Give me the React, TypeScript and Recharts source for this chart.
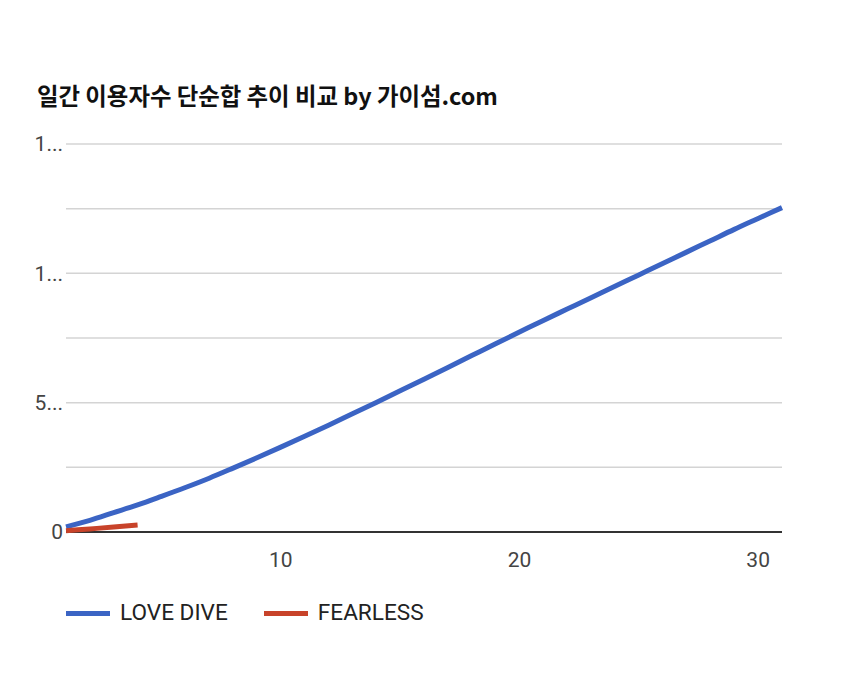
import React from 'react';
import { LineChart, Line, XAxis, YAxis, CartesianGrid, ReferenceLine } from 'recharts';

const days = [1, 2, 3, 4, 5, 6, 7, 8, 9, 10, 11, 12, 13, 14, 15, 16, 17, 18, 19, 20, 21, 22, 23, 24, 25, 26, 27, 28, 29, 30, 31];
const loveDive = [200000, 450000, 750000, 1050000, 1380000, 1720000, 2080000, 2470000, 2870000, 3280000, 3700000, 4130000, 4570000, 5010000, 5460000, 5910000, 6360000, 6820000, 7280000, 7730000, 8180000, 8620000, 9060000, 9500000, 9940000, 10380000, 10820000, 11260000, 11700000, 12120000, 12540000];
const fearless = [50000, 120000, 190000, 270000];
const yTicks = [0, 2500000, 5000000, 7500000, 10000000, 12500000, 15000000];
const yLabels: Record<number, string> = { 0: '0', 5000000: '5...', 10000000: '1...', 15000000: '1...' };
const xTicks = [10, 20, 30];
const title = '일간 이용자수 단순합 추이 비교 by 가이섬.com';
const seriesNames = ['LOVE DIVE', 'FEARLESS'];
const colors = ['#3b64c4', '#c8432a'];

const data = days.map((d, i) => ({
  day: d,
  lovedive: loveDive[i],
  fearless: i < fearless.length ? fearless[i] : null,
}));

const font = 'Roboto, "Noto Sans", sans-serif';

export default function App() {
  return (
    <div style={{ position: 'absolute', left: 0, top: 0, width: 850, height: 676, background: '#fff' }}>
      <div
        style={{
          position: 'absolute',
          left: 37,
          top: 80,
          fontFamily: '"Noto Sans CJK KR", "Noto Sans", sans-serif',
          fontWeight: 700,
          fontSize: 23.4,
          lineHeight: '30px',
          color: '#111',
          whiteSpace: 'nowrap',
        }}
      >
        {title}
      </div>
      <LineChart width={850} height={676} data={data} margin={{ top: 144, right: 68, bottom: 104, left: 0 }}>
        <CartesianGrid vertical={false} stroke="#d4d4d4" strokeWidth={1.5} />
        <XAxis
          dataKey="day"
          type="number"
          domain={[1, 31]}
          ticks={xTicks}
          axisLine={false}
          tickLine={false}
          height={40}
          tickMargin={14}
          tick={{ fill: '#444', fontSize: 21, fontFamily: font }}
        />
        <YAxis
          type="number"
          domain={[0, 15000000]}
          ticks={yTicks}
          width={66}
          axisLine={false}
          tickLine={false}
          tickMargin={-3}
          tickFormatter={(v: number) => yLabels[v] ?? ''}
          tick={{ fill: '#444', fontSize: 21, fontFamily: font }}
        />
        <ReferenceLine y={0} stroke="#333" strokeWidth={2} />
        <Line
          type="monotone"
          dataKey="lovedive"
          name={seriesNames[0]}
          stroke={colors[0]}
          strokeWidth={5}
          dot={false}
          isAnimationActive={false}
        />
        <Line
          type="monotone"
          dataKey="fearless"
          name={seriesNames[1]}
          stroke={colors[1]}
          strokeWidth={5}
          dot={false}
          connectNulls={false}
          isAnimationActive={false}
        />
      </LineChart>
      <div
        style={{
          position: 'absolute',
          left: 66,
          top: 599,
          display: 'flex',
          alignItems: 'center',
          fontFamily: font,
          fontSize: 22.6,
          lineHeight: '28px',
          color: '#222',
        }}
      >
        {seriesNames.map((n, i) => (
          <div key={n} style={{ display: 'flex', alignItems: 'center', marginRight: i === 0 ? 36 : 0 }}>
            <div style={{ width: 44, height: 5, background: colors[i], marginRight: 10 }} />
            <span>{n}</span>
          </div>
        ))}
      </div>
    </div>
  );
}
